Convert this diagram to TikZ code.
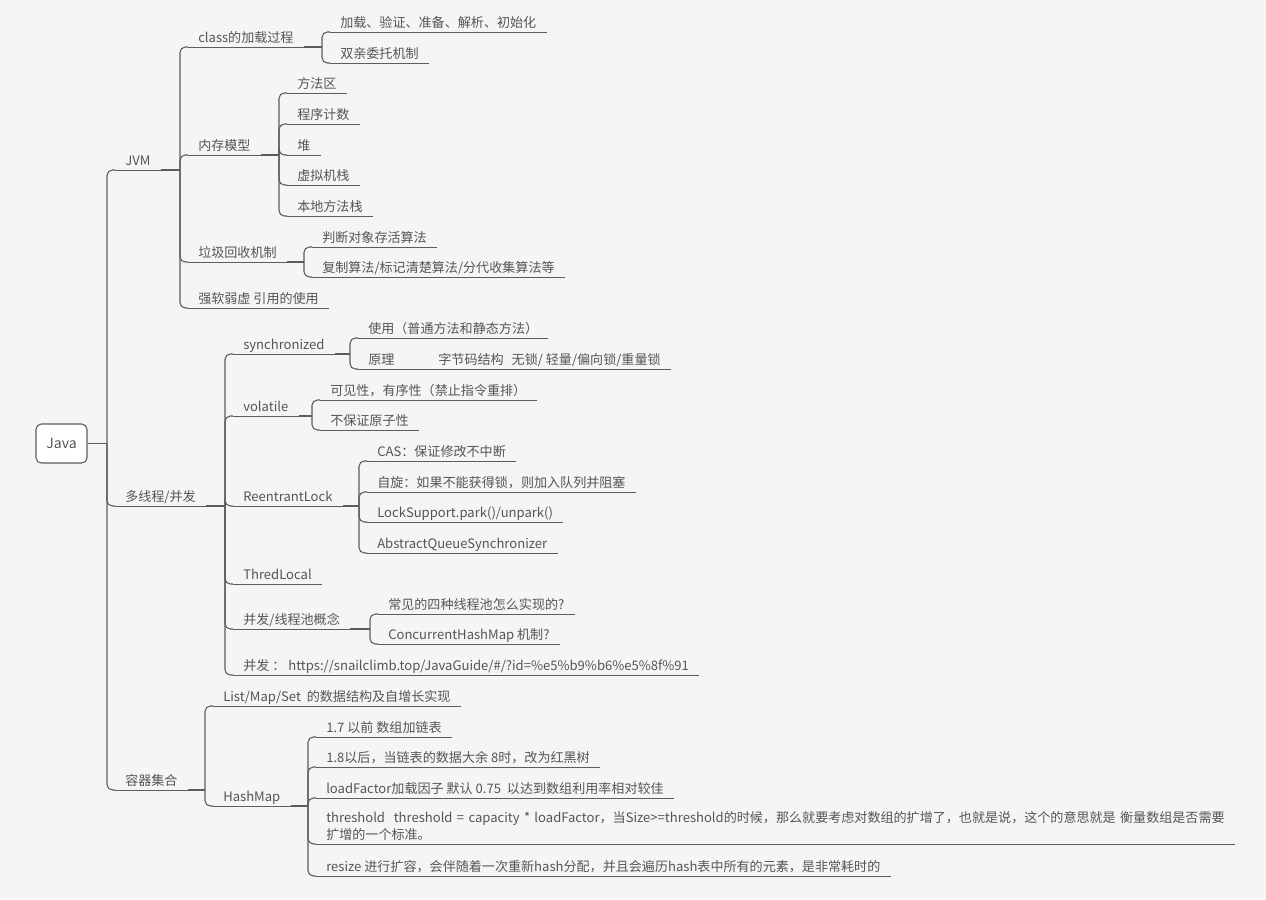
\documentclass[tikz,border=0pt]{standalone}
\usepackage{fontspec}
\setmainfont{Noto Sans CJK SC}
\definecolor{cline}{HTML}{5C5C5C}
\definecolor{ctext}{HTML}{555555}
\definecolor{cbg}{HTML}{F5F5F5}
\tikzset{
  every picture/.style={font=\fontsize{9.8}{12.75}\selectfont},
  root/.style={draw=cline, fill=white, rounded corners=4pt, line width=0.8pt, text=ctext,
    minimum width=38.25pt, minimum height=29.25pt, inner sep=2pt, font=\fontsize{10.5}{13}\selectfont},
  uline/.style={draw=cline, line width=0.7pt},
  topic/.style={anchor=south west, inner xsep=7.5pt, inner ysep=0.5pt, text=ctext,
    text height=8.5pt, text depth=2.7pt,
    append after command={(\tikzlastnode.south west) edge[uline] (\tikzlastnode.south east)}},
  stub/.style={draw=cline, line width=1.4pt},
  link/.style={draw=cline, line width=0.8pt, rounded corners=4pt},
}
\begin{document}
\begin{tikzpicture}[x=0.75pt, y=-0.75pt]
  \path[use as bounding box, fill=cbg] (0,0) rectangle (1266,899);
  % root
  \node[root] (java) at (61.5,443.5) {Java};
  \coordinate (javaT) at (107,443.5);
  \draw[stub] (java) -- (javaT);
  \node[topic] (jvm) at (115,170) {JVM};
  \node[topic] (mt) at (115,506) {多线程/并发};
  \node[topic] (coll) at (115,790) {容器集合};
  \foreach \c in {jvm,mt,coll} \draw[link] (javaT) |- (\c.south west);

  % JVM
  \node[topic] (cls) at (188,47) {class的加载过程};
  \node[topic] (mem) at (188,155) {内存模型};
  \node[topic] (gc) at (188,262) {垃圾回收机制};
  \node[topic] (ref) at (188,308) {强软弱虚 引用的使用};
  \coordinate (jvmT) at (180,170);
  \draw[stub] (jvm.south east) -- (jvmT);
  \foreach \c in {cls,mem,gc,ref} \draw[link] (jvmT) |- (\c.south west);

  \node[topic] (load) at (330,32) {加载、验证、准备、解析、初始化};
  \node[topic] (pdm) at (330,63) {双亲委托机制};
  \coordinate (clsT) at (322,47);
  \draw[stub] (cls.south east) -- (clsT);
  \foreach \c in {load,pdm} \draw[link] (clsT) |- (\c.south west);

  \node[topic] (m1) at (287,93) {方法区};
  \node[topic] (m2) at (287,124) {程序计数};
  \node[topic] (m3) at (287,155) {堆};
  \node[topic] (m4) at (287,185) {虚拟机栈};
  \node[topic] (m5) at (287,216) {本地方法栈};
  \coordinate (memT) at (279,155);
  \draw[stub] (mem.south east) -- (memT);
  \foreach \c in {m1,m2,m3,m4,m5} \draw[link] (memT) |- (\c.south west);

  \node[topic] (g1) at (312,247) {判断对象存活算法};
  \node[topic] (g2) at (312,277) {复制算法/标记清楚算法/分代收集算法等};
  \coordinate (gcT) at (304,262);
  \draw[stub] (gc.south east) -- (gcT);
  \foreach \c in {g1,g2} \draw[link] (gcT) |- (\c.south west);

  % threads
  \node[topic] (syn) at (233,354) {synchronized};
  \node[topic] (vol) at (233,416) {volatile};
  \node[topic] (rl) at (233,506) {ReentrantLock};
  \node[topic] (tl) at (233,584) {ThredLocal};
  \node[topic] (pool) at (233,629) {并发/线程池概念};
  \node[topic] (url) at (233,675) {并发 ： https://snailclimb.top/JavaGuide/\#/?id=\%e5\%b9\%b6\%e5\%8f\%91};
  \coordinate (mtT) at (225,506);
  \draw[stub] (mt.south east) -- (mtT);
  \foreach \c in {syn,vol,rl,tl,pool,url} \draw[link] (mtT) |- (\c.south west);

  \node[topic] (s1) at (358,338) {使用（普通方法和静态方法）};
  \node[topic] (s2) at (358,369) {原理\hspace{33pt}字节码结构\hspace{6pt}无锁/ 轻量/偏向锁/重量锁};
  \coordinate (synT) at (350,354);
  \draw[stub] (syn.south east) -- (synT);
  \foreach \c in {s1,s2} \draw[link] (synT) |- (\c.south west);

  \node[topic] (v1) at (320,400) {可见性，有序性（禁止指令重排）};
  \node[topic] (v2) at (320,430) {不保证原子性};
  \coordinate (volT) at (312,416);
  \draw[stub] (vol.south east) -- (volT);
  \foreach \c in {v1,v2} \draw[link] (volT) |- (\c.south west);

  \node[topic] (r1) at (367,461) {CAS：保证修改不中断};
  \node[topic] (r2) at (367,492) {自旋：如果不能获得锁，则加入队列并阻塞};
  \node[topic] (r3) at (367,522) {LockSupport.park()/unpark()};
  \node[topic] (r4) at (367,553) {AbstractQueueSynchronizer};
  \coordinate (rlT) at (359,506);
  \draw[stub] (rl.south east) -- (rlT);
  \foreach \c in {r1,r2,r3,r4} \draw[link] (rlT) |- (\c.south west);

  \node[topic] (p1) at (378,614) {常见的四种线程池怎么实现的?};
  \node[topic] (p2) at (378,644) {ConcurrentHashMap 机制?};
  \coordinate (poolT) at (370,629);
  \draw[stub] (pool.south east) -- (poolT);
  \foreach \c in {p1,p2} \draw[link] (poolT) |- (\c.south west);

  % collections
  \node[topic] (lst) at (213,706) {List/Map/Set~~的数据结构及自增长实现};
  \node[topic] (hm) at (213,806) {HashMap};
  \coordinate (collT) at (205,790);
  \draw[stub] (coll.south east) -- (collT);
  \foreach \c in {lst,hm} \draw[link] (collT) |- (\c.south west);

  \node[topic] (h1) at (316,737) {1.7 以前 数组加链表};
  \node[topic] (h2) at (316,767) {1.8以后，当链表的数据大余 8时，改为红黑树};
  \node[topic] (h3) at (316,798) {loadFactor加载因子 默认 0.75~~以达到数组利用率相对较佳};
  \node[topic, text width=673.5pt, align=left, text depth=15.45pt] (h4) at (316,844)
    {\mbox{threshold~~threshold = capacity * loadFactor，当Size>=threshold的时候，那么就要考虑对数组的扩增了，也就是说，这个的意思就是 衡量数组是否需要}\\扩增的一个标准。};
  \node[topic] (h5) at (316,876) {resize 进行扩容，会伴随着一次重新hash分配，并且会遍历hash表中所有的元素，是非常耗时的};
  \coordinate (hmT) at (308,806);
  \draw[stub] (hm.south east) -- (hmT);
  \foreach \c in {h1,h2,h3,h4,h5} \draw[link] (hmT) |- (\c.south west);
\end{tikzpicture}
\end{document}
